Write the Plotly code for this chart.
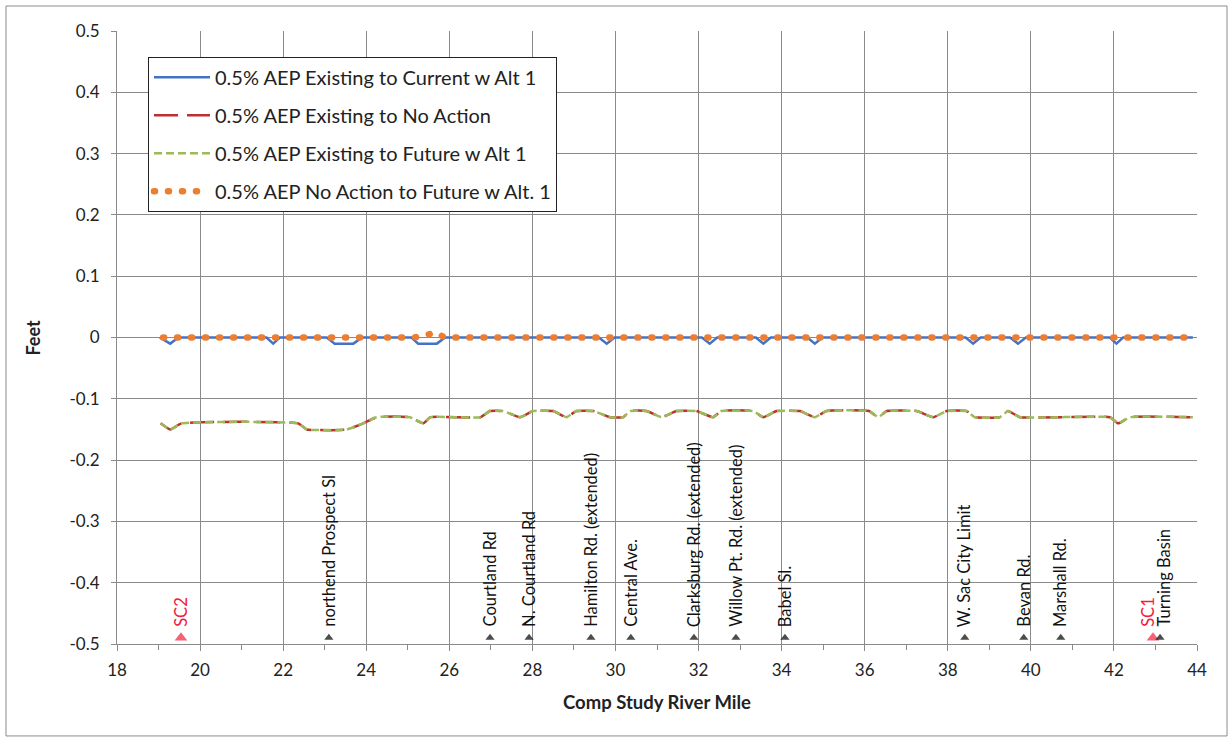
import plotly.graph_objects as go

# ---------------- data ----------------
SERIES_NAMES = [
    "0.5% AEP Existing to Current w Alt 1",
    "0.5% AEP Existing to No Action",
    "0.5% AEP Existing to Future w Alt 1",
    "0.5% AEP No Action to Future w Alt. 1",
]

# Existing to Current w Alt 1
CUR_X = [19.03, 19.28, 19.48, 21.6, 21.76, 21.92, 23.05, 23.24, 23.69, 23.9,
         25.09, 25.25, 25.7, 25.9, 29.6, 29.79, 29.98, 32.08, 32.27, 32.45,
         33.38, 33.56, 33.74, 34.62, 34.8, 34.98, 38.43, 38.61, 38.79, 39.5,
         39.69, 39.88, 41.9, 42.06, 42.22, 43.9]
CUR_Y = [0, -0.01, 0, 0, -0.01, 0, 0, -0.01, -0.01, 0,
         0, -0.01, -0.01, 0, 0, -0.01, 0, 0, -0.01, 0,
         0, -0.01, 0, 0, -0.01, 0, 0, -0.01, 0, 0,
         -0.01, 0, 0, -0.01, 0, 0]

# Existing to No Action  /  Existing to Future w Alt 1 (coincident)
LOW_X = [19.05, 19.28, 19.56, 22.36, 22.57, 23.53, 23.93, 24.25, 25.05, 25.37,
         25.55, 26.75, 26.98, 27.3, 27.7, 28.02, 28.5, 28.82, 29.06, 29.47,
         29.87, 30.19, 30.35, 30.75, 31.11, 31.47, 31.95, 32.35, 32.55, 33.32,
         33.56, 33.88, 34.44, 34.8, 35.08, 36.1, 36.33, 36.53, 37.25, 37.65,
         37.97, 38.45, 38.65, 39.25, 39.45, 39.74, 41.9, 42.1, 42.39, 43.9]
NOACT_Y = [-0.14, -0.15, -0.14, -0.14, -0.15, -0.15, -0.14, -0.13, -0.13, -0.14,
           -0.13, -0.13, -0.12, -0.12, -0.13, -0.12, -0.12, -0.13, -0.12, -0.12,
           -0.13, -0.13, -0.12, -0.12, -0.13, -0.12, -0.12, -0.13, -0.12, -0.12,
           -0.13, -0.12, -0.12, -0.13, -0.12, -0.12, -0.13, -0.12, -0.12, -0.13,
           -0.12, -0.12, -0.13, -0.13, -0.12, -0.13, -0.13, -0.14, -0.13, -0.13]
FUT_Y = list(NOACT_Y)

# No Action to Future w Alt. 1
NA_FUT_X = [19.11, 25.15, 25.4, 25.65, 25.9, 43.9]
NA_FUT_Y = [0, 0, 0.003, 0.008, 0, 0]

# Landmarks along the river
LOC_NAMES = ["SC2", "northend Prospect Sl", "Courtland Rd", "N. Courtland Rd",
             "Hamilton Rd. (extended)", "Central Ave.", "Clarksburg Rd. (extended)",
             "Willow Pt. Rd. (extended)", "Babel Sl.", "W. Sac City Limit",
             "Bevan Rd.", "Marshall Rd.", "SC1", "Turning Basin"]
LOC_X = [19.54, 23.10, 26.98, 27.92, 29.41, 30.37, 31.89, 32.90, 34.08, 38.41,
         39.83, 40.72, 42.94, 43.11]
LOC_LEVEL = -0.49

Y_TICKS = [0.5, 0.4, 0.3, 0.2, 0.1, 0, -0.1, -0.2, -0.3, -0.4, -0.5]
Y_TICK_TEXT = ["0.5", "0.4", "0.3", "0.2", "0.1", "0", "-0.1", "-0.2", "-0.3", "-0.4", "-0.5"]
X_RANGE = [18, 44]
X_TITLE = "Comp Study River Mile"
Y_TITLE = "Feet"

# ---------------- styles ----------------
FONT = "Lato, 'Open Sans', sans-serif"
BLUE = "#4472C4"
RED = "#BE2F2F"
GREEN = "#9BBB59"
ORANGE = "#ED7D31"
GRID = "#8A8A8A"
MARK_RED = "#F0203C"

fig = go.Figure()
fig.add_trace(go.Scatter(x=CUR_X, y=CUR_Y, name=SERIES_NAMES[0], mode="lines",
                         legendgroup="g1",
                         line=dict(color=BLUE, width=2.5)))
fig.add_trace(go.Scatter(x=LOW_X, y=NOACT_Y, name=SERIES_NAMES[1], mode="lines",
                         legendgroup="g2",
                         line=dict(color=RED, width=2.5, dash="24px,9px", shape="spline", smoothing=0.4)))
fig.add_trace(go.Scatter(x=LOW_X, y=FUT_Y, name=SERIES_NAMES[2], mode="lines",
                         legendgroup="g3",
                         line=dict(color=GREEN, width=2.5, dash="8px,4px", shape="spline", smoothing=0.4)))
fig.add_trace(go.Scatter(x=NA_FUT_X, y=NA_FUT_Y, name=SERIES_NAMES[3], mode="lines",
                         legendgroup="g4",
                         line=dict(color=ORANGE, width=6.5, dash="1px,13px")))

is_sc = [n.startswith("SC") for n in LOC_NAMES]
fig.add_trace(go.Scatter(
    x=LOC_X, y=[LOC_LEVEL] * len(LOC_X), mode="markers", showlegend=False,
    hoverinfo="skip",
    marker=dict(symbol="triangle-up",
                size=[11 if s else 8 for s in is_sc],
                color=[MARK_RED if s else "black" for s in is_sc],
                line=dict(width=0))))

shift = {"SC1": -5, "Turning Basin": 4}
for name, xv, s in zip(LOC_NAMES, LOC_X, is_sc):
    fig.add_annotation(x=xv, y=LOC_LEVEL, yshift=9, text=name, textangle=-90,
                       showarrow=False, xanchor="center", yanchor="bottom",
                       xshift=shift.get(name, 0),
                       font=dict(family=FONT, size=16.5, color=MARK_RED if s else "#111"))

# y-axis title placed explicitly
fig.add_annotation(xref="paper", yref="paper", x=-0.0787, y=0.5, text="<b>" + Y_TITLE + "</b>",
                   textangle=-90, showarrow=False, xanchor="center", yanchor="middle",
                   font=dict(family=FONT, size=18, color="#222"))

# outer chart-area border
fig.add_shape(type="rect", xref="paper", yref="paper",
              x0=-0.1028, x1=1.0278, y0=-0.150, y1=1.0408,
              line=dict(color="#8C8C8C", width=1), fillcolor="rgba(0,0,0,0)")

fig.update_layout(
    width=1232, height=741,
    margin=dict(l=117, r=35, t=31, b=97, autoexpand=False),
    paper_bgcolor="white", plot_bgcolor="white",
    font=dict(family=FONT, size=17, color="#222"),
    showlegend=True,
    legend=dict(x=0.0287, y=0.958, xanchor="left", yanchor="top",
                bgcolor="white", bordercolor="#222", borderwidth=1,
                font=dict(family=FONT, size=20, color="#222"),
                traceorder="grouped", tracegroupgap=9, itemwidth=56),
    xaxis=dict(range=X_RANGE, tick0=18, dtick=2, showgrid=True, gridcolor=GRID,
               gridwidth=1, zeroline=False, showline=True, linecolor=GRID,
               ticks="outside", ticklen=6, tickcolor=GRID,
               ticklabelstandoff=5,
               minor=dict(dtick=1, ticks="outside", ticklen=5, tickcolor=GRID, showgrid=False),
               title=dict(text="<b>" + X_TITLE + "</b>", standoff=16,
                          font=dict(family=FONT, size=18.5, color="#222"))),
    yaxis=dict(range=[-0.5, 0.5], tickvals=Y_TICKS, ticktext=Y_TICK_TEXT,
               showgrid=True, gridcolor=GRID, gridwidth=1, zeroline=False,
               showline=True, linecolor=GRID, ticks="outside", ticklen=5,
               tickcolor=GRID, ticklabelstandoff=8),
)

post = ("document.body.style.margin='0';"
        "document.querySelectorAll('path').forEach(function(p){"
        "if(p.style.stroke==='rgb(237, 125, 49)'){p.style.strokeLinecap='round';}});")
fig.write_html("out.html", post_script=post, config={"displayModeBar": False})
